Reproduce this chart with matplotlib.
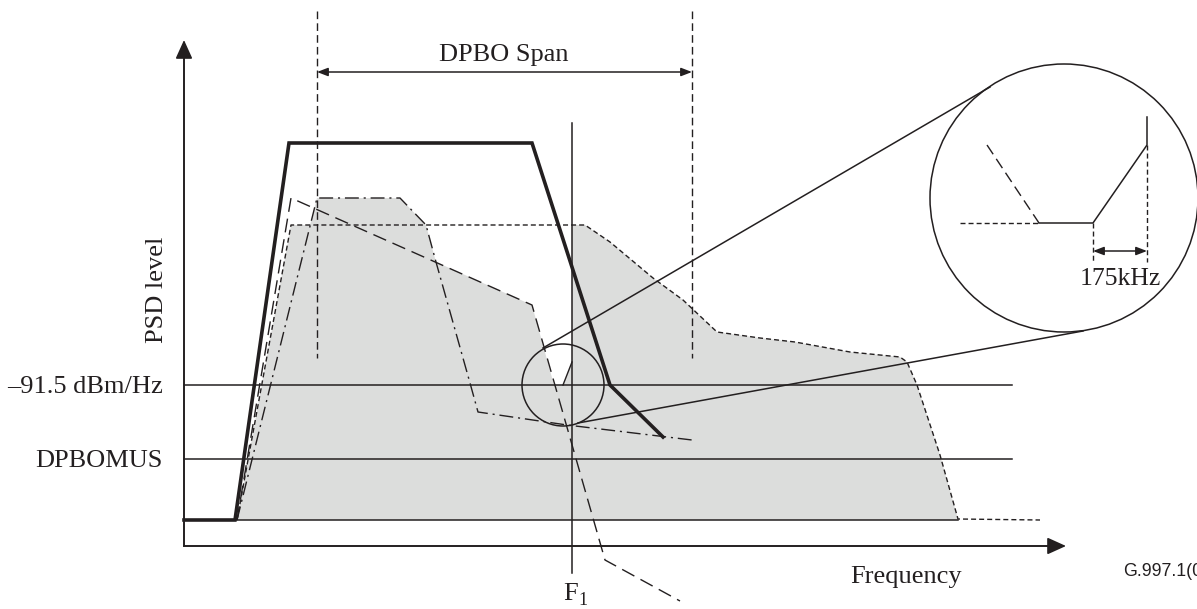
import matplotlib.pyplot as plt
from matplotlib.patches import Circle

# schematic, drawn in pixel units of the original figure (y grows downwards)
ink = '#231f20'
grey = '#dcdddc'

# short-dashed mask curve (outline of the grey area on the right)
mask_x = [237, 291, 585, 610, 653, 683, 717, 760, 795, 850, 900, 907, 917, 940, 958, 1040]
mask_y = [520, 225, 225, 242, 278, 300, 332, 338, 342, 352, 357, 362, 385, 455, 519, 520]

# thick solid PSD
thick_x = [184, 235, 289, 532, 610, 663]
thick_y = [520, 520, 143, 143, 385, 437]

# dash-dot PSD
dashdot_x = [237, 317, 400, 426, 436, 470, 478, 567, 692]
dashdot_y = [520, 198, 198, 225, 262, 383, 412, 425, 440]

# long-dashed PSD
longdash_x = [237, 291, 532, 605, 680]
longdash_y = [520, 198, 305, 560, 601]

# grey shaded area
grey_x = [237, 291, 310, 317, 400, 426, 436, 532, 554, 563, 572, 572, 585, 610, 653,
          683, 717, 760, 795, 850, 900, 907, 917, 940, 958, 958]
grey_y = [520, 225, 225, 198, 198, 225, 262, 305, 385, 385, 362, 225, 225, 242, 278,
          300, 332, 338, 342, 352, 357, 362, 385, 455, 519, 520]

# horizontal levels
level_labels = ['\u201391.5 dBm/Hz', 'DPBOMUS']
level_y = [385, 459]
level_end = 1012
floor_y = 520
floor_end = 958

# axes of the sketch
origin = (184, 546)
y_top = 40
x_right = 1066

# DPBO span and F1
span_x = [317, 692]
span_top, span_bot = 11, 358
span_arrow_y = 72
f1_x = 572
f1_top, f1_bot = 123, 573

# zoom circles and connecting lines
small_c = (563, 385, 41)
big_c = (1064, 198, 134)
link1 = ([543, 990], [348, 87])
link2 = ([578, 1083], [423, 331])

# inset detail
inset_ld = ([987, 1039], [145, 223])
inset_sd = ([960, 1039], [223, 223])
inset_solid = ([1039, 1093, 1147, 1147], [223, 223, 145, 117])
inset_marks = [1093, 1147]
inset_marks_top = [223, 145]
inset_marks_bot = 262
inset_arrow_y = 251
notch = ([563, 572], [385, 362])

serif = 'Liberation Serif'

fig = plt.figure(figsize=(11.97, 6.09), dpi=100)
ax = fig.add_axes([0, 0, 1, 1])
ax.set_xlim(0, 1197)
ax.set_ylim(609, 0)
ax.axis('off')

ax.fill(grey_x, grey_y, color=grey, lw=0, zorder=1)

# levels and floor
for y in level_y:
    ax.plot([origin[0], level_end], [y, y], color=ink, lw=1.1, zorder=3)
ax.plot([origin[0], floor_end], [floor_y, floor_y], color=ink, lw=1.1, zorder=3)

# curves
ax.plot(mask_x, mask_y, color=ink, lw=1.0, ls=(0, (3.6, 2.2)), zorder=4)
ax.plot(dashdot_x, dashdot_y, color=ink, lw=1.0, ls=(0, (10, 3.5, 1.5, 3.5)), zorder=4)
ax.plot(longdash_x, longdash_y, color=ink, lw=1.0, ls=(0, (10, 5)), zorder=4)
ax.plot(thick_x, thick_y, color=ink, lw=2.6, zorder=5, solid_joinstyle='miter')
ax.plot(notch[0], notch[1], color=ink, lw=1.0, zorder=4)

# axes with arrowheads
ax.plot([origin[0], origin[0]], [origin[1], y_top + 10], color=ink, lw=1.2, zorder=3)
ax.plot([origin[0], x_right - 10], [origin[1], origin[1]], color=ink, lw=1.2, zorder=3)
head = dict(arrowstyle='-|>,head_length=11.5,head_width=5.2', mutation_scale=1,
            color=ink, lw=1.2, shrinkA=0, shrinkB=0)
ax.annotate('', xy=(origin[0], y_top), xytext=(origin[0], origin[1]), arrowprops=head)
ax.annotate('', xy=(x_right, origin[1]), xytext=(origin[0], origin[1]), arrowprops=head)

# DPBO span
for x in span_x:
    ax.plot([x, x], [span_top, span_bot], color=ink, lw=1.0, ls=(0, (5.5, 3)), zorder=4)
small_head = dict(arrowstyle='<|-|>,head_length=6.5,head_width=2.5', mutation_scale=1,
                  color=ink, lw=1.1, shrinkA=0, shrinkB=0)
ax.annotate('', xy=(span_x[0], span_arrow_y), xytext=(span_x[1], span_arrow_y),
            arrowprops=small_head)
ax.text(sum(span_x) / 2 - 1, 61, 'DPBO Span', family=serif, fontsize=19,
        ha='center', va='baseline', color=ink)

# F1 line
ax.plot([f1_x, f1_x], [f1_top, f1_bot], color=ink, lw=1.1, zorder=4)
ax.text(563, 600, 'F', family=serif, fontsize=19, ha='left', va='baseline', color=ink)
ax.text(578, 605, '1', family=serif, fontsize=13, ha='left', va='baseline', color=ink)

# circles and links
for cx, cy, r in [small_c, big_c]:
    ax.add_patch(Circle((cx, cy), r, fill=False, ec=ink, lw=1.1, zorder=6))
ax.plot(link1[0], link1[1], color=ink, lw=1.1, zorder=6)
ax.plot(link2[0], link2[1], color=ink, lw=1.1, zorder=6)

# inset
ax.plot(inset_ld[0], inset_ld[1], color=ink, lw=1.0, ls=(0, (8, 4)), zorder=6)
ax.plot(inset_sd[0], inset_sd[1], color=ink, lw=1.0, ls=(0, (3.6, 2.2)), zorder=6)
ax.plot(inset_solid[0], inset_solid[1], color=ink, lw=1.1, zorder=6)
for x, t in zip(inset_marks, inset_marks_top):
    ax.plot([x, x], [t, inset_marks_bot], color=ink, lw=1.0, ls=(0, (3.6, 2.2)), zorder=6)
ax.annotate('', xy=(inset_marks[0], inset_arrow_y), xytext=(inset_marks[1], inset_arrow_y),
            arrowprops=small_head)
ax.text(1120, 285, '175kHz', family=serif, fontsize=18.5, ha='center', va='baseline', color=ink)

# labels
for lab, y in zip(level_labels, level_y):
    ax.text(163, y + 8, lab, family=serif, fontsize=19, ha='right', va='baseline', color=ink)
ax.text(163, 290, 'PSD level', family=serif, fontsize=19, rotation=90,
        rotation_mode='anchor', ha='center', va='baseline', color=ink)
ax.text(906, 583, 'Frequency', family=serif, fontsize=19, ha='center', va='baseline', color=ink)
# figure id runs off the right edge, as in the original
ax.text(1123, 576, 'G.997.1(06)', family='Liberation Sans', fontsize=12.8,
        ha='left', va='baseline', color=ink)

fig.savefig('out.png', dpi=100)
